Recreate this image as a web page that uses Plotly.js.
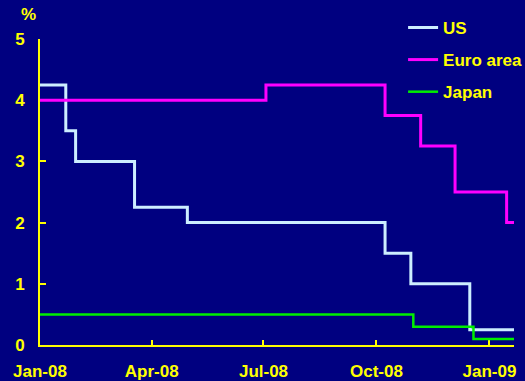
<!DOCTYPE html>
<html>
<head>
<meta charset="utf-8">
<script src="https://cdn.plot.ly/plotly-3.0.1.min.js"></script>
<style>html,body{margin:0;padding:0;background:#000080;}#chart{width:525px;height:381px;}</style>
</head>
<body>
<div id="chart"></div>
<script>
// Policy rate change dates and levels (%)
var usDates   = ['2008-01-01','2008-01-22','2008-01-30','2008-03-18','2008-04-30','2008-10-08','2008-10-29','2008-12-16','2009-01-21'];
var usRates   = [4.25, 3.5, 3.0, 2.25, 2.0, 1.5, 1.0, 0.25, 0.25];
var euroDates = ['2008-01-01','2008-07-03','2008-10-08','2008-11-06','2008-12-04','2009-01-15','2009-01-21'];
var euroRates = [4.0, 4.25, 3.75, 3.25, 2.5, 2.0, 2.0];
var japanDates = ['2008-01-01','2008-10-31','2008-12-19','2009-01-21'];
var japanRates = [0.5, 0.3, 0.1, 0.1];
var xTickVals = ['2008-01-01','2008-04-01','2008-07-01','2008-10-01','2009-01-01'];
var xTickText = ['Jan-08','Apr-08','Jul-08','Oct-08','Jan-09'];
var yTickVals = [0,1,2,3,4,5];

var fontFam = 'Liberation Sans, Arial, sans-serif';
var yellow = '#FFFF00';

var traces = [
  {x: usDates, y: usRates, name: 'US', mode: 'lines', line: {shape: 'hv', color: '#CCEEFF', width: 3}, legendgroup: 'a'},
  {x: euroDates, y: euroRates, name: 'Euro area', mode: 'lines', line: {shape: 'hv', color: '#FF00FF', width: 3}, legendgroup: 'b'},
  {x: japanDates, y: japanRates, name: 'Japan', mode: 'lines', line: {shape: 'hv', color: '#00EE00', width: 2.5}, legendgroup: 'c'}
];

var layout = {
  width: 525, height: 381,
  paper_bgcolor: '#000080', plot_bgcolor: '#000080',
  margin: {l: 40, r: 11, t: 39, b: 36, autoexpand: false},
  font: {family: fontFam, color: yellow, size: 17, weight: 'bold'},
  showlegend: true,
  legend: {x: 0.766, y: 1.095, xanchor: 'left', yanchor: 'top', bgcolor: 'rgba(0,0,0,0)',
           font: {family: fontFam, color: yellow, size: 17, weight: 'bold'},
           traceorder: 'grouped', tracegroupgap: 7},
  xaxis: {type: 'date', range: ['2008-01-01','2009-01-21'], tickmode: 'array', tickvals: xTickVals, ticktext: xTickText,
          showgrid: false, zeroline: false, showline: true, linecolor: yellow, linewidth: 2, layer: 'below traces',
          ticks: 'inside', ticklen: 5, tickwidth: 2, tickcolor: yellow,
          tickfont: {family: fontFam, color: yellow, size: 17, weight: 'bold'}, ticklabelstandoff: 10},
  yaxis: {range: [0, 5], tickmode: 'array', tickvals: yTickVals,
          showgrid: false, zeroline: false, showline: true, linecolor: yellow, linewidth: 2, layer: 'below traces',
          ticks: 'inside', ticklen: 6, tickwidth: 2, tickcolor: yellow,
          tickfont: {family: fontFam, color: yellow, size: 17, weight: 'bold'}, ticklabelstandoff: 10},
  annotations: [{text: '%', xref: 'paper', yref: 'paper', x: -0.025, y: 1.08, xanchor: 'center', yanchor: 'middle', showarrow: false,
                 font: {family: fontFam, color: yellow, size: 17, weight: 'bold'}}]
};

Plotly.newPlot('chart', traces, layout, {displayModeBar: false, staticPlot: true});
</script>
</body>
</html>
